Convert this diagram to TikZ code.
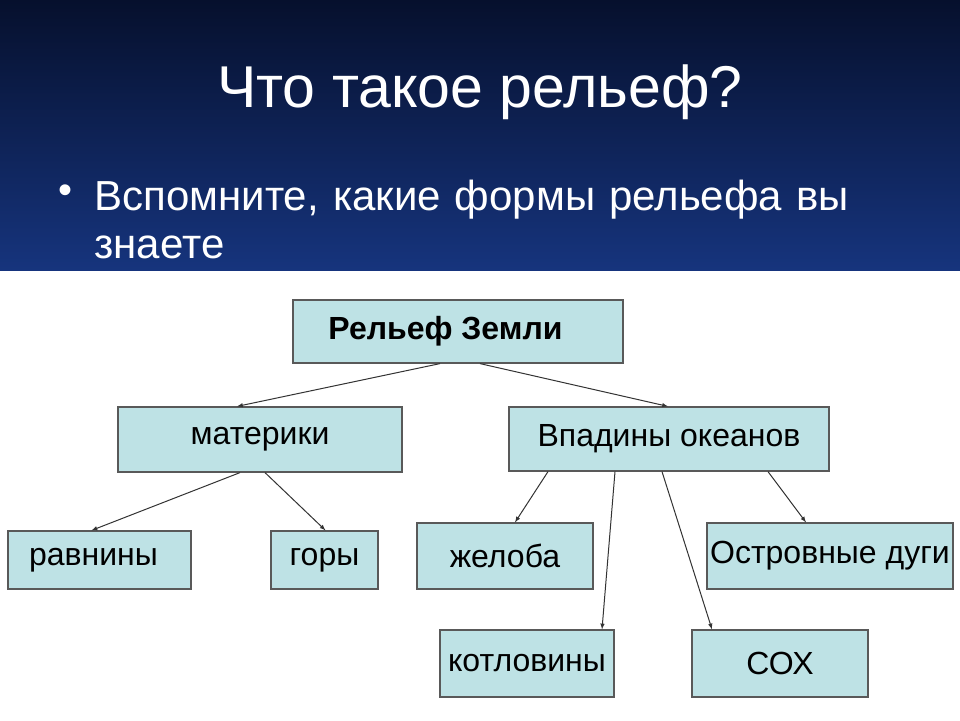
\documentclass[tikz,border=0pt]{standalone}
\usepackage{fontspec}
\setmainfont{Liberation Sans}
\begin{document}
\begin{tikzpicture}[x=1pt,y=-1pt,
  box/.style={draw=black!65,line width=1.2pt,fill={rgb,255:red,190;green,226;blue,229},inner sep=0pt,font=\fontsize{32}{36}\selectfont},
  arr/.style={-latex,draw=black!80,line width=1pt}]
\useasboundingbox (0,0) rectangle (960,720);
\fill[white] (0,0) rectangle (960,720);
\shade[top color={rgb,255:red,6;green,16;blue,45},bottom color={rgb,255:red,22;green,52;blue,125}] (0,0) rectangle (960,270);
\node[text=white,font=\fontsize{59}{63}\selectfont] (title) at (480,92) {Что такое рельеф?};
\node[text=white,font=\fontsize{40}{44}\selectfont,anchor=west] (b) at (55,194) {•};
\node[text=white,font=\fontsize{42}{48}\selectfont,anchor=west,align=left,text width=860pt] (t1) at (91,219) {Вспомните, какие формы рельефа вы\\знаете};
\node[box,minimum width=330pt,minimum height=63pt,font=\bfseries\fontsize{32}{36}\selectfont] (r) at (458,331.5) {\hspace*{-25pt}\raisebox{4pt}{Рельеф Земли}};
\node[box,minimum width=284pt,minimum height=65pt] (m) at (260,439.5) {\raisebox{3pt}{материки}};
\node[box,minimum width=320pt,minimum height=64pt] (v) at (669,439) {Впадины океанов};
\node[box,minimum width=183pt,minimum height=58pt] (p) at (99.5,560) {\hspace*{-12pt}равнины};
\node[box,minimum width=107pt,minimum height=58pt] (g) at (324.5,560) {горы};
\node[box,minimum width=176pt,minimum height=66pt] (zh) at (505,556) {желоба};
\node[box,minimum width=246pt,minimum height=66pt] (o) at (830,556) {Островные дуги};
\node[box,minimum width=174pt,minimum height=67pt] (k) at (527,663.5) {котловины};
\node[box,minimum width=176pt,minimum height=67pt] (s) at (780,663.5) {СОХ};
\draw[arr] ([xshift=-18pt]r.south) -- ([xshift=-23pt]m.north);
\draw[arr] ([xshift=22pt]r.south) -- ([xshift=-1pt]v.north);
\draw[arr] ([xshift=-20pt]m.south) -- ([xshift=-8pt]p.north);
\draw[arr] ([xshift=5pt]m.south) -- ([xshift=1pt]g.north);
\draw[arr] ([xshift=-121pt]v.south) -- ([xshift=10pt]zh.north);
\draw[arr] ([xshift=-54pt]v.south) -- ([xshift=75pt]k.north);
\draw[arr] ([xshift=-7pt]v.south) -- ([xshift=-68pt]s.north);
\draw[arr] ([xshift=99pt]v.south) -- ([xshift=-24pt]o.north);
\end{tikzpicture}
\end{document}
